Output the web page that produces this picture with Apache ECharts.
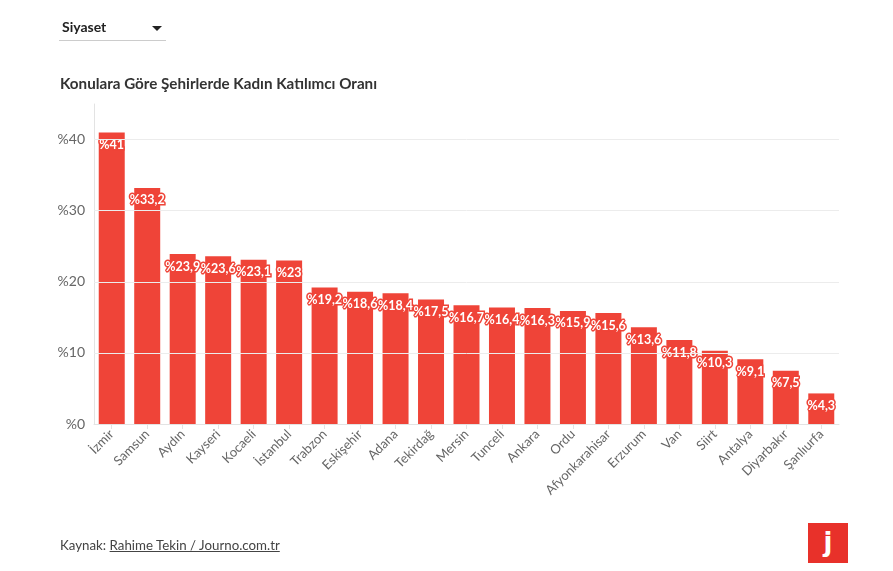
<!DOCTYPE html>
<html><head><meta charset="utf-8">
<script src="https://cdn.jsdelivr.net/npm/echarts@6/dist/echarts.min.js"></script>
<style>
html,body{margin:0;padding:0;background:#fff;width:893px;height:571px;overflow:hidden;font-family:Lato,"Noto Sans",sans-serif;}
#chart{position:absolute;left:0;top:0;width:893px;height:571px;}
.ov{position:absolute;white-space:nowrap;}
#dd{left:59px;top:16px;width:107px;height:24px;border-bottom:1px solid #ccc;}
#dd span{position:absolute;left:3px;top:2px;font-weight:bold;font-size:14px;color:#222;}
#dd i{position:absolute;left:93px;top:10px;width:0;height:0;border-left:5px solid transparent;border-right:5px solid transparent;border-top:5px solid #222;}
#title{left:60px;top:74px;font-weight:bold;font-size:15.2px;color:#333;}
#src{left:60px;top:537px;font-size:13.3px;color:#444;}
#src u{color:#444;}
#logo{left:808px;top:523px;width:40px;height:40px;background:#e8312a;color:#fff;font-weight:bold;font-size:26px;text-align:center;line-height:38px;font-family:"DejaVu Sans",sans-serif;}
</style></head>
<body>
<div id="chart"></div>
<div class="ov" id="dd"><span>Siyaset</span><i></i></div>
<div class="ov" id="title">Konulara Göre Şehirlerde Kadın Katılımcı Oranı</div>
<div class="ov" id="src">Kaynak: <u>Rahime Tekin / Journo.com.tr</u></div>
<div class="ov" id="logo">j</div>
<script>
const categories = ["İzmir","Samsun","Aydın","Kayseri","Kocaeli","İstanbul","Trabzon","Eskişehir","Adana","Tekirdağ","Mersin","Tunceli","Ankara","Ordu","Afyonkarahisar","Erzurum","Van","Siirt","Antalya","Diyarbakır","Şanlıurfa"];
const values = [41,33.2,23.9,23.6,23.1,23,19.2,18.6,18.4,17.5,16.7,16.4,16.3,15.9,15.6,13.6,11.8,10.3,9.1,7.5,4.3];
const yTicks = [0,10,20,30,40];
const barColor = "#ef4438";

const chart = echarts.init(document.getElementById('chart'), null, {renderer:'canvas'});
chart.setOption({
  animation:false,
  grid:{left:94,right:54,top:104,bottom:147,containLabel:false},
  xAxis:{
    type:'category', data:categories,
    axisLine:{show:true,lineStyle:{color:'#e3e3e3'}},
    axisTick:{show:true,alignWithLabel:true,length:5,lineStyle:{color:'#e3e3e3'}},
    axisLabel:{rotate:45,fontSize:13,color:'#666',fontFamily:'Lato',margin:8,interval:0}
  },
  yAxis:{
    type:'value',min:0,max:45,interval:10,
    axisLine:{show:true,lineStyle:{color:'#e3e3e3'}},
    axisTick:{show:false},
    splitLine:{show:false},
    axisLabel:{fontSize:14,color:'#666',fontFamily:'Lato',margin:9,showMaxLabel:false,
      formatter:v=> yTicks.indexOf(v)>=0 ? '%'+v : ''}
  },
  series:[{
    type:'bar', data:values, barWidth:26,
    itemStyle:{color:barColor},
    label:{show:true,position:'insideTop',distance:6,
      formatter:p=>'%'+String(p.value).replace('.',','),
      color:'#fff',fontWeight:'bold',fontSize:12.5,fontFamily:'Lato',
      textBorderColor:barColor,textBorderWidth:3},
    markLine:{silent:true,symbol:'none',label:{show:false},
      lineStyle:{color:'#ececec',type:'solid',width:1},
      data:yTicks.filter(v=>v>0).map(v=>({yAxis:v}))},
    z:3
  }]
});
</script>
</body></html>
